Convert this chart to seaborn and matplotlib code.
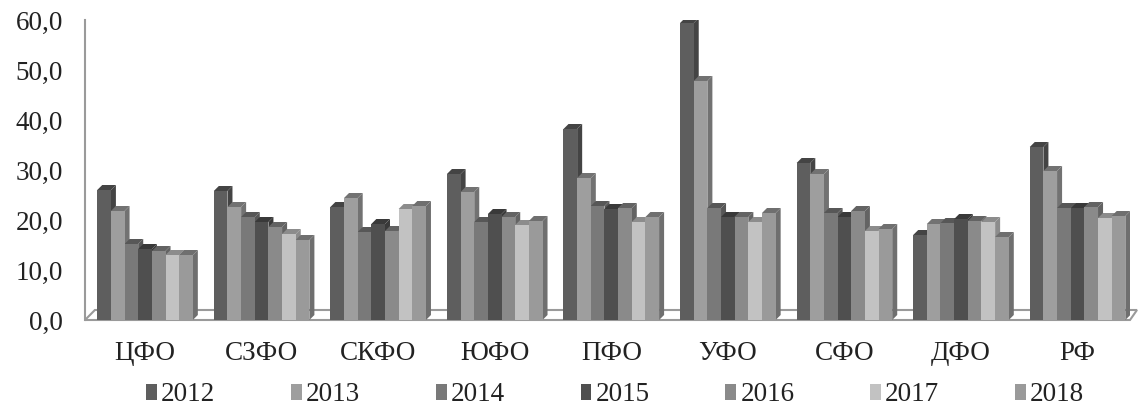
import numpy as np
import pandas as pd
import seaborn as sns
import matplotlib
matplotlib.use("Agg")
import matplotlib.pyplot as plt
from matplotlib.patches import Polygon, Patch
import matplotlib.colors as mcolors

regions = ["ЦФО", "СЗФО", "СКФО", "ЮФО", "ПФО", "УФО", "СФО", "ДФО", "РФ"]
years = ["2012", "2013", "2014", "2015", "2016", "2017", "2018"]
v2012 = [26.0, 25.8, 22.6, 29.2, 38.2, 59.4, 31.4, 17.0, 34.6]
v2013 = [21.8, 22.6, 24.4, 25.6, 28.4, 47.8, 29.2, 19.2, 29.8]
v2014 = [15.2, 20.6, 17.6, 19.6, 22.8, 22.4, 21.4, 19.4, 22.4]
v2015 = [14.2, 19.6, 19.2, 21.2, 22.2, 20.6, 20.6, 20.2, 22.4]
v2016 = [13.8, 18.6, 17.8, 20.6, 22.4, 20.6, 21.8, 19.8, 22.6]
v2017 = [13.0, 17.2, 22.2, 19.0, 19.6, 19.6, 17.8, 19.6, 20.4]
v2018 = [13.0, 16.0, 22.8, 19.8, 20.6, 21.4, 18.2, 16.6, 20.8]
series = [v2012, v2013, v2014, v2015, v2016, v2017, v2018]
colors = ["#5e5e5e", "#9e9e9e", "#797979", "#4f4f4f", "#8a8a8a", "#c2c2c2", "#9a9a9a"]

df = pd.DataFrame({
    "region": np.repeat([regions], len(years), axis=0).ravel(),
    "year": np.repeat(years, len(regions)),
    "value": np.concatenate(series),
})

sns.set_style("white")
plt.rcParams["font.family"] = ["Liberation Serif", "DejaVu Serif"]

fig = plt.figure(figsize=(11.39, 4.07), dpi=100)
ax = fig.add_axes([85 / 1139, 87 / 407, (1130 - 85) / 1139, 300 / 407])

sns.barplot(data=df, x="region", y="value", hue="year", order=regions,
            hue_order=years, palette=colors, saturation=1, width=0.82,
            ax=ax, legend=False, zorder=3, linewidth=0)

ax.set_xlim(-0.515, 8.45)
ax.set_ylim(0, 60)

# pseudo-3D depth faces derived from bar geometry
ddx, ddy = 0.043, 1.0
for patch in list(ax.patches):
    x, w, h = patch.get_x(), patch.get_width(), patch.get_height()
    fc = np.array(mcolors.to_rgb(patch.get_facecolor()))
    dark = tuple(fc * 0.72)
    side = Polygon([(x + w, 0), (x + w + ddx, ddy), (x + w + ddx, h + ddy), (x + w, h)],
                   closed=True, facecolor=dark, edgecolor="none", zorder=2)
    top = Polygon([(x, h), (x + ddx, h + ddy), (x + w + ddx, h + ddy), (x + w, h)],
                  closed=True, facecolor=dark, edgecolor="none", zorder=2)
    ax.add_patch(side)
    ax.add_patch(top)

# floor
x0, x1 = ax.get_xlim()
fdx, fdy = 0.085, 2.0
floor = Polygon([(x0, 0), (x0 + fdx, fdy), (x1 + 0.06, fdy), (x1, 0)],
                closed=True, facecolor="white", edgecolor="#9a9a9a", lw=1.5,
                zorder=1, clip_on=False)
ax.add_patch(floor)

for s in ["top", "right", "bottom"]:
    ax.spines[s].set_visible(False)
ax.spines["left"].set_color("#9a9a9a")
ax.spines["left"].set_linewidth(1.5)

ax.set_yticks(np.arange(0, 61, 10))
ax.set_yticklabels([f"{t:.1f}".replace(".", ",") for t in np.arange(0, 61, 10)])
ax.tick_params(axis="y", length=0, pad=16, labelsize=19.5, labelcolor="#222222")
ax.tick_params(axis="x", length=0, pad=15, labelsize=19.5, labelcolor="#222222")
ax.set_xlabel("")
ax.set_ylabel("")

handles = [Patch(facecolor=c, edgecolor="none", label=y) for c, y in zip(colors, years)]
fig.legend(handles=handles, loc="center", bbox_to_anchor=(0.54, 0.03), ncol=7,
           frameon=False, fontsize=19.5, handlelength=0.4, handleheight=0.55,
           handletextpad=0.15, columnspacing=2.8, labelcolor="#222222")

fig.savefig("out.png", dpi=100)
